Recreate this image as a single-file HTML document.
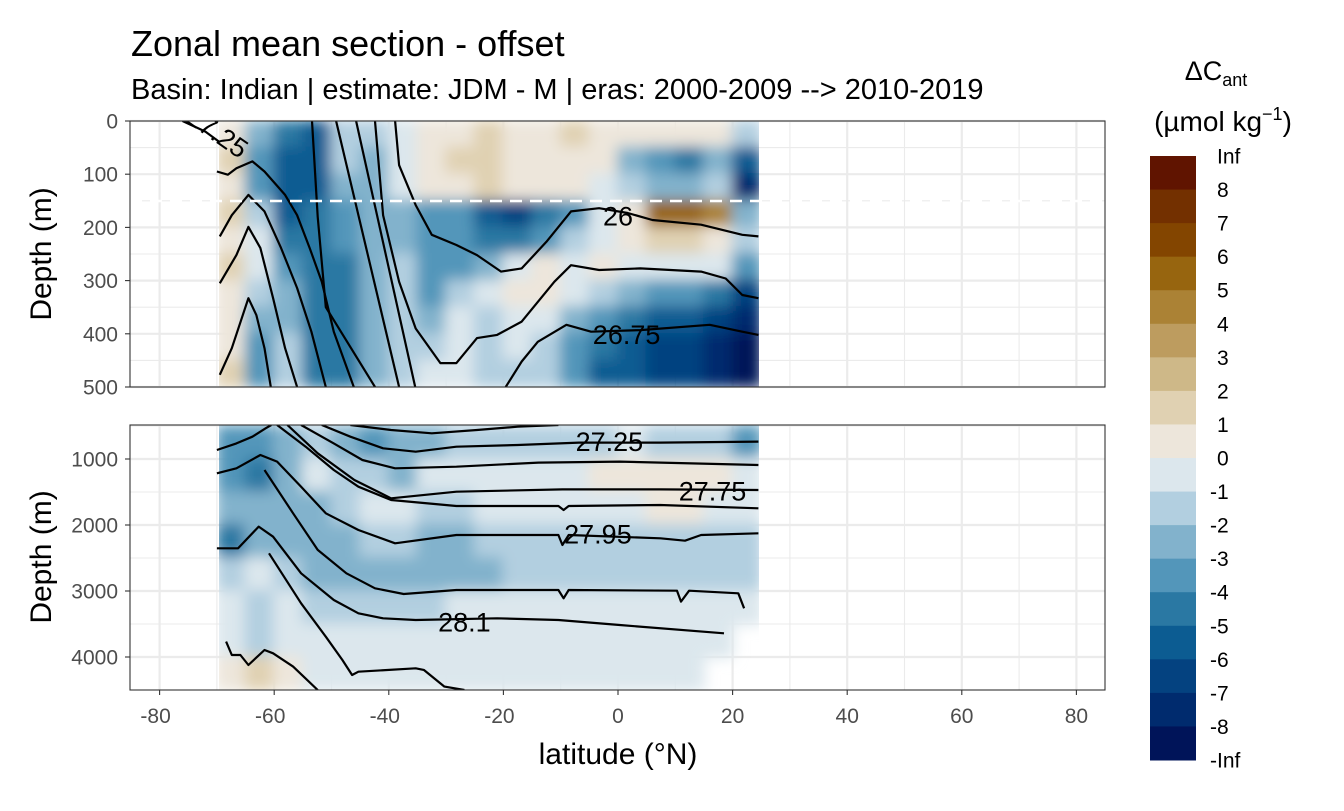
<!DOCTYPE html>
<html><head><meta charset="utf-8">
<style>
body{margin:0;background:#fff;font-family:"Liberation Sans",sans-serif;}
svg text{font-family:"Liberation Sans",sans-serif;}
</style></head>
<body>
<svg id="chart" width="1344" height="806" viewBox="0 0 1344 806" xmlns="http://www.w3.org/2000/svg">
<defs>
<filter id="soft" x="-5%" y="-5%" width="110%" height="110%"><feGaussianBlur stdDeviation="7"/></filter>
<clipPath id="clipTop"><rect x="219" y="121" width="540" height="266"/></clipPath>
<clipPath id="clipBot"><rect x="219" y="425" width="540" height="265"/></clipPath>
<clipPath id="panTop"><rect x="130" y="121" width="975" height="266"/></clipPath>
<clipPath id="panBot"><rect x="130" y="425" width="975" height="265"/></clipPath>
</defs>
<text x="131" y="56" font-size="36" fill="#000">Zonal mean section - offset</text>
<text x="131" y="99" font-size="29" fill="#000">Basin: Indian | estimate: JDM - M | eras: 2000-2009 --&gt; 2010-2019</text>
<g id="gridTop"></g>
<g id="gridBot"></g>
<g clip-path="url(#clipTop)"><g id="cellsTop" filter="url(#soft)"></g></g>
<g clip-path="url(#clipBot)"><g id="cellsBot" filter="url(#soft)"></g></g>
<g id="contTop" clip-path="url(#panTop)"></g>
<g id="contBot" clip-path="url(#panBot)"></g>
<line x1="130" y1="201" x2="1105" y2="201" stroke="#fff" stroke-width="2.5" stroke-dasharray="12,8"/>
<rect x="130" y="121" width="975" height="266" fill="none" stroke="#333" stroke-width="1.1"/>
<rect x="130" y="425" width="975" height="265" fill="none" stroke="#333" stroke-width="1.1"/>
<g id="axes"></g>
<text transform="translate(51,254) rotate(-90)" text-anchor="middle" font-size="30">Depth (m)</text>
<text transform="translate(51,557) rotate(-90)" text-anchor="middle" font-size="30">Depth (m)</text>
<text x="618" y="764" text-anchor="middle" font-size="30">latitude (°N)</text>
<text x="1216" y="80" text-anchor="middle" font-size="27">ΔC<tspan font-size="18" dy="6">ant</tspan></text>
<text x="1223" y="131" text-anchor="middle" font-size="28">(µmol kg<tspan font-size="18" dy="-11">−1</tspan><tspan dy="11">)</tspan></text>
<g id="legend"></g>
</svg>
<script>
const binColors = ["#001459","#002b6e","#044280","#0c5c92","#2a78a3","#5396ba","#82b2cc","#b2cfe0","#dce7ed","#ede6db","#e0d1b2","#ceb888","#bd9c5f","#ab8235","#97650f","#834500","#733000","#601400"];
const legendLabels = ["Inf","8","7","6","5","4","3","2","1","0","-1","-2","-3","-4","-5","-6","-7","-8","-Inf"];
const xTicks = [-80,-60,-40,-20,0,20,40,60,80];
const topTicks = [0,100,200,300,400,500];
const botTicks = [1000,2000,3000,4000];
const lats = [-67.5,-62.5,-57.5,-52.5,-47.5,-42.5,-37.5,-32.5,-27.5,-22.5,-17.5,-12.5,-7.5,-2.5,2.5,7.5,12.5,17.5,22.5];
const topDepths = [25,75,125,175,225,275,325,375,425,475];
const topValues = [
[0.5,-2.5,-4.5,-5.5,-1.5,-1.5,-0.5,0.5,0.5,1.5,0.5,0.5,1.5,0.5,0.5,0.5,0.5,0.5,-1.5],
[1.5,-3.5,-5.5,-5.5,-1.5,-2.5,-0.5,0.5,1.5,1.5,0.5,0.5,0.5,0.5,-2.5,-3.5,-4.5,-2.5,-5.5],
[0.5,-3.5,-5.5,-5.5,-2.5,-2.5,-0.5,0.5,0.5,1.5,0.5,0.5,0.5,-0.5,-1.5,-2.5,-2.5,-1.5,-7.5],
[1.5,-1.5,-5.5,-4.5,-3.5,-2.5,-2.5,-3.5,-3.5,-5.5,-6.5,-4.5,-3.5,-0.5,0.5,5.5,5.5,4.5,-2.5],
[0.5,-0.5,-4.5,-4.5,-3.5,-2.5,-2.5,-3.5,-3.5,-4.5,-4.5,-3.5,-1.5,-0.5,0.5,1.5,1.5,0.5,-1.5],
[1.5,-0.5,-3.5,-4.5,-4.5,-2.5,-1.5,-3.5,-3.5,-2.5,-0.5,0.5,-0.5,0.5,-0.5,-0.5,-0.5,-0.5,-3.5],
[0.5,-1.5,-2.5,-4.5,-4.5,-2.5,-1.5,-3.5,-1.5,-0.5,0.5,0.5,-0.5,-1.5,-2.5,-3.5,-3.5,-4.5,-6.5],
[0.5,-2.5,-2.5,-4.5,-4.5,-2.5,-1.5,-2.5,-0.5,-1.5,-0.5,-0.5,-2.5,-3.5,-4.5,-5.5,-5.5,-6.5,-7.5],
[0.5,-3.5,-1.5,-4.5,-4.5,-2.5,-1.5,-1.5,-0.5,-1.5,-0.5,-1.5,-3.5,-4.5,-5.5,-6.5,-6.5,-7.5,-8.5],
[1.5,-3.5,-1.5,-4.5,-4.5,-2.5,-1.5,-0.5,-0.5,-1.5,-1.5,-1.5,-3.5,-5.5,-5.5,-6.5,-6.5,-7.5,-8.5]];
const botDepths = [750,1250,1750,2250,2750,3250,3750,4250];
const botValues = [
[-3.5,-3.5,-2.5,-1.5,-2.5,-3.5,-2.5,-2.5,-1.5,-1.5,-1.5,-1.5,-1.5,-1.5,-0.5,-1.5,-1.5,-1.5,-3.5],
[-3.5,-4.5,-2.5,-0.5,-1.5,-1.5,-2.5,-0.5,-0.5,-0.5,-0.5,-0.5,-0.5,0.5,0.5,0.5,0.5,0.5,-0.5],
[-2.5,-2.5,-2.5,-2.5,-1.5,-0.5,-0.5,-1.5,-1.5,-0.5,-0.5,-0.5,-0.5,-0.5,-0.5,0.5,0.5,-0.5,-0.5],
[-4.5,-2.5,-2.5,-2.5,-2.5,-1.5,-1.5,-2.5,-2.5,-1.5,-1.5,-1.5,-1.5,-1.5,-1.5,-1.5,-1.5,-1.5,-1.5],
[-1.5,-0.5,-1.5,-2.5,-2.5,-2.5,-2.5,-2.5,-2.5,-2.5,-1.5,-1.5,-1.5,-1.5,-1.5,-1.5,-1.5,-1.5,-1.5],
[-0.5,-1.5,-0.5,-1.5,-1.5,-1.5,-1.5,-1.5,-0.5,-0.5,-0.5,-0.5,-0.5,-0.5,-0.5,-0.5,-0.5,-0.5,-0.5],
[-0.5,-1.5,-0.5,-0.5,-0.5,-0.5,-0.5,-0.5,-0.5,-0.5,-0.5,-0.5,-0.5,-0.5,-0.5,-0.5,-0.5,-0.5,null],
[0.5,1.5,0.5,-0.5,-0.5,-0.5,-0.5,-0.5,-0.5,-0.5,-0.5,-0.5,-0.5,-0.5,-0.5,-0.5,-0.5,null,null]];
const topContourLats = [
[-70,-68.1,-66.6,-63.8,-61.7,-58.1,-56.0,-53.8,-51.7,-49.6,-46.1],
[-69.5,-67.4,-64.5,-61.7,-58.8,-56.0,-53.5,-51.0],
[-69.5,-66.6,-64.5,-62.4,-60.2,-58.1,-56.0],
[-69.5,-67.4,-64.5,-63.1,-61.7,-60.6],
[-53.4,-52.4,-51.0,-42.4],
[-49.2,-38.2],
[-45.7,-35.4],
[-38.9,-38.2,-35.3,-32.5,-28.2,-24.6,-20.4,-16.8,-12.5,-8.2,-3.3,1.7,6.0,14.5,21.7,24.5],
[-42.4,-41.0,-38.2,-35.3,-31.0,-28.2,-24.6,-21.1,-16.8,-11.1,-8.2,-3.3,3.9,14.5,18.8,21.7,24.5],
[-19.6,-16.8,-14.0,-9.0,-4.7,3.9,16.0,21.7,24.5],
[-76,-72,-69.5]];
const topContourDepths = [
[95,101,89,76,95,139,177,239,302,396,500],
[217,177,139,170,239,314,396,500],
[305,252,199,239,333,427,500],
[477,427,333,365,427,500],
[0,180,350,500],
[0,500],
[0,500],
[0,83,158,214,233,252,283,277,227,170,164,173,186,195,214,217],
[0,177,302,390,455,455,408,402,377,302,271,280,277,283,296,327,333],
[500,452,415,383,396,393,383,396,402],
[0,20,40]];
const botContourLats = [
[-70,-66.6,-63.8,-61.5,-60.5],
[-46.7,-39.6,-32.5,-24.6,-17.5,-10.4],
[-51.7,-46.7,-41.0,-35.3,-28.2,-17.5,-6.8,7.4,24.5],
[-55.3,-49.6,-44.6,-38.9,-28.2,-13.9,0.3,24.5],
[-57.7,-52.4,-46.0,-39.6,-28.2,-9.7,7.4,24.5],
[-59.5,-54.5,-49.6,-45.3,-39.6,-28.2,-10.4,-9.5,-8.6,7.4,24.5],
[-70,-66.6,-62.4,-59.5,-55.3,-51.0,-45.3,-38.9,-28.2,-10.4,-9.7,-8.6,7.4,11.7,14.5,24.5],
[-61.7,-56.7,-52.4,-47.4,-42.4,-37.4,-28.2,-10.4,-9.5,-8.6,10.3,11.0,12.4,21.0,22.0],
[-70,-66.3,-62.7,-60.2,-55.3,-49.6,-45.3,-41.0,-35.3,-21.1,-10.4,0.3,18.5],
[-68.4,-67.4,-65.9,-64.5,-61.7,-60.2,-56.7,-52.4],
[-60.9,-55.3,-51.0,-48.1,-46.4,-45.3,-35.3,-33.9,-30.3,-26.8]];
const botContourDepths = [
[864,763,662,535,485],
[485,560,611,560,510,485],
[485,662,838,889,813,788,752,752,737],
[485,763,1015,1141,1116,1055,1040,1091],
[485,914,1318,1596,1495,1460,1460,1470],
[485,813,1167,1419,1621,1712,1712,1772,1712,1697,1747],
[1217,1141,939,1040,1419,1823,2076,2278,2151,2151,2303,2151,2202,2238,2151,2126],
[1167,1823,2378,2732,2959,3045,2985,2985,3111,2985,2995,3161,2995,3035,3262],
[2353,2353,2025,2177,2732,3136,3338,3414,3439,3414,3439,3515,3641],
[3767,3969,3969,4121,3894,3944,4146,4500],
[2429,3187,3692,4045,4272,4222,4171,4196,4449,4500]];
const topLabels = ["26","26.75"];
const topLabelLats = [0,1.5];
const topLabelDepths = [178,400];
const botLabels = ["27.25","27.75","27.95","28.1"];
const botLabelLats = [-1.5,16.5,-3.5,-26.8];
const botLabelDepths = [730,1480,2130,3460];

const NS="http://www.w3.org/2000/svg";
const xS = lat => 618 + lat*5.73;
const yTop = d => 121 + d*0.532;
const yBot = d => 459 + (d-1000)*0.066;
function mk(tag, parent){const e=document.createElementNS(NS,tag);parent.appendChild(e);return e;}
function colorFor(v){let i=Math.floor(v)+9;i=Math.max(0,Math.min(17,i));return binColors[i];}

function grid(g, yfun, majors, minors, y0, y1){
  const xs=[]; for(let l=-90;l<=90;l+=10) xs.push(l);
  xs.forEach(l=>{const x=xS(l); if(x<130||x>1105) return;
    const ln=mk('line',g); ln.setAttribute('x1',x);ln.setAttribute('x2',x);ln.setAttribute('y1',y0);ln.setAttribute('y2',y1);
    ln.setAttribute('stroke','#ebebeb');ln.setAttribute('stroke-width',l%20===0?2.2:1.1);
    
    });
  majors.concat(minors).forEach((d,i)=>{const y=yfun(d); if(y<y0||y>y1) return;
    const ln=mk('line',g); ln.setAttribute('x1',130);ln.setAttribute('x2',1105);ln.setAttribute('y1',y);ln.setAttribute('y2',y);
    ln.setAttribute('stroke','#ebebeb');ln.setAttribute('stroke-width',i<majors.length?2.2:1.1);
    
    });
}
grid(document.getElementById('gridTop'), yTop, topTicks, [50,150,250,350,450], 121, 387);
grid(document.getElementById('gridBot'), yBot, botTicks, [500,1500,2500,3500,4500], 425, 690);

function cells(g, depths, values, yfun, dStep){
  values.forEach((row,ri)=>{row.forEach((v,ci)=>{ if(v===null) return;
    const r=mk('rect',g);
    const x0=xS(lats[ci]-2.5)-1, x1=xS(lats[ci]+2.5)+1;
    const ya=yfun(depths[ri]-dStep/2)-1, yb=yfun(depths[ri]+dStep/2)+1;
    r.setAttribute('x',x0);r.setAttribute('y',Math.min(ya,yb));r.setAttribute('width',x1-x0);r.setAttribute('height',Math.abs(yb-ya));
    r.setAttribute('fill',colorFor(v));
    
    
  });});
}
cells(document.getElementById('cellsTop'), topDepths, topValues, yTop, 50);
cells(document.getElementById('cellsBot'), botDepths, botValues, yBot, 500);

function contours(g, L, D, yfun){
  L.forEach((arr,i)=>{const p=mk('polyline',g);
    p.setAttribute('points',arr.map((l,j)=>xS(l).toFixed(1)+','+yfun(D[i][j]).toFixed(1)).join(' '));
    p.setAttribute('fill','none');p.setAttribute('stroke','#000');p.setAttribute('stroke-width','2.2');p.setAttribute('stroke-linejoin','round');
    
    });
}
contours(document.getElementById('contTop'), topContourLats, topContourDepths, yTop);
contours(document.getElementById('contBot'), botContourLats, botContourDepths, yBot);
function labels(g, T, La, De, yfun){
  T.forEach((t,i)=>{const e=mk('text',g);e.setAttribute('x',xS(La[i]));e.setAttribute('y',yfun(De[i])+10);
    e.setAttribute('text-anchor','middle');e.setAttribute('font-size','27');e.textContent=t;
    
    });
}
labels(document.getElementById('contTop'), topLabels, topLabelLats, topLabelDepths, yTop);
labels(document.getElementById('contBot'), botLabels, botLabelLats, botLabelDepths, yBot);
{const e=mk('text',document.getElementById('contTop'));e.setAttribute('transform','translate(212,140) rotate(35)');
 e.setAttribute('text-anchor','middle');e.setAttribute('font-size','27');e.textContent='27.25';
 
 }

const ax=document.getElementById('axes');
xTicks.forEach(t=>{const x=xS(t);
  const ln=mk('line',ax);ln.setAttribute('x1',x);ln.setAttribute('x2',x);ln.setAttribute('y1',690);ln.setAttribute('y2',695);ln.setAttribute('stroke','#333');ln.setAttribute('stroke-width','1.1');
  
  
  const e=mk('text',ax);e.setAttribute('x',t<0?x-4:x);e.setAttribute('y',723);e.setAttribute('text-anchor','middle');e.setAttribute('font-size','21');e.setAttribute('fill','#4d4d4d');e.textContent=t;
  
  });
function yAxis(ticks,yfun){ticks.forEach(t=>{const y=yfun(t);
  const ln=mk('line',ax);ln.setAttribute('x1',125);ln.setAttribute('x2',130);ln.setAttribute('y1',y);ln.setAttribute('y2',y);ln.setAttribute('stroke','#333');ln.setAttribute('stroke-width','1.1');
  
  
  const e=mk('text',ax);e.setAttribute('x',118);e.setAttribute('y',y+7.5);e.setAttribute('text-anchor','end');e.setAttribute('font-size','21');e.setAttribute('fill','#4d4d4d');e.textContent=t;
  
  });}
yAxis(topTicks,yTop); yAxis(botTicks,yBot);

const lg=document.getElementById('legend');
const step=(760-156)/18;
for(let i=0;i<18;i++){const r=mk('rect',lg);
  r.setAttribute('x',1150);r.setAttribute('y',156+i*step);r.setAttribute('width',46);r.setAttribute('height',step+0.5);
  r.setAttribute('fill',binColors[17-i]);
  
  }
legendLabels.forEach((t,i)=>{const e=mk('text',lg);e.setAttribute('x',t.startsWith('-')?1210:1217);e.setAttribute('y',156+i*step+7.5);
  e.setAttribute('font-size','21');e.textContent=t;
  
  });
</script>
</body></html>
